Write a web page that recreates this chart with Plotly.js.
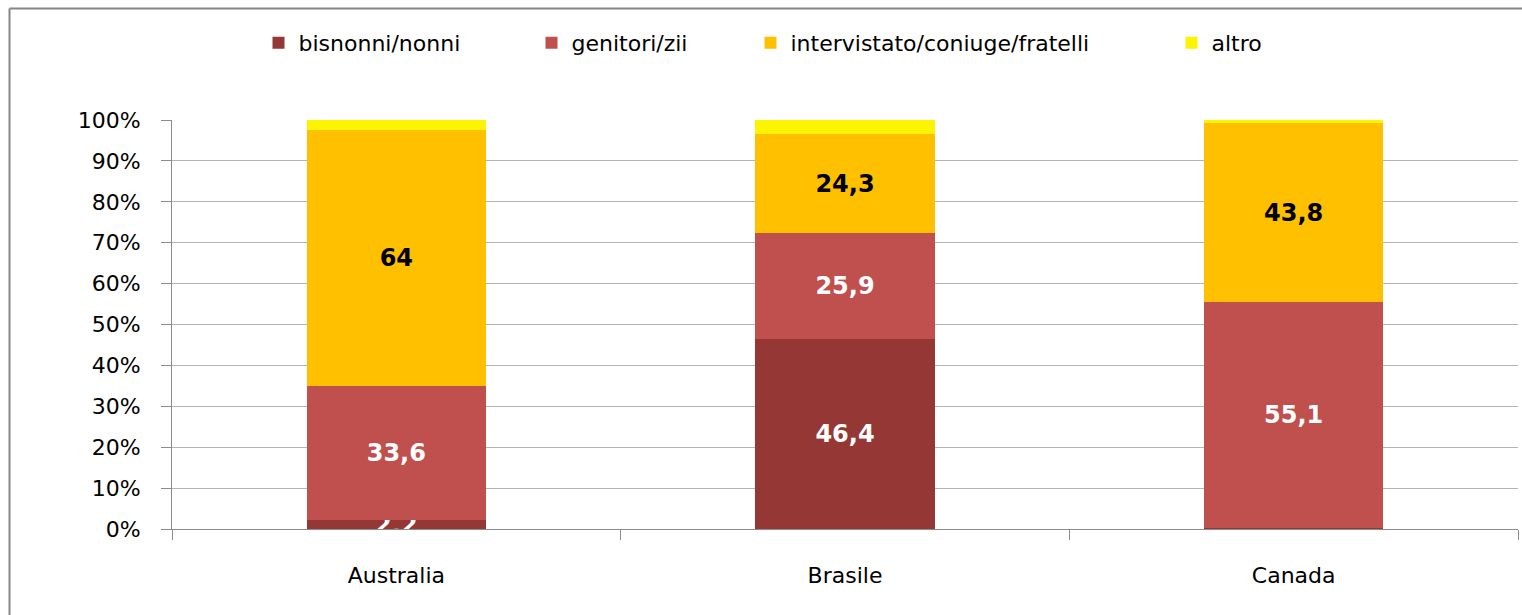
<!DOCTYPE html>
<html>
<head>
<meta charset="utf-8">
<script src="https://cdn.plot.ly/plotly-3.0.1.min.js"></script>
<style>
html,body{margin:0;padding:0;background:#fff;}
#chart{width:1522px;height:615px;}
</style>
</head>
<body>
<div id="chart"></div>
<script>
const categories = ["Australia", "Brasile", "Canada"];
const seriesNames = ["bisnonni/nonni", "genitori/zii", "intervistato/coniuge/fratelli", "altro"];
const bisnonni = [2.2, 46.4, 0.3];
const genitori = [33.6, 25.9, 55.1];
const intervistato = [64, 24.3, 43.8];
const altro = [2.4, 3.4, 0.8];
const showBisnonni = [true, true, false];
const showGenitori = [true, true, true];
const showIntervistato = [true, true, true];
const showAltro = [false, false, false];
const yTickVals = [0, 10, 20, 30, 40, 50, 60, 70, 80, 90, 100];
const yTickText = ["0%", "10%", "20%", "30%", "40%", "50%", "60%", "70%", "80%", "90%", "100%"];

const colors = ["#953735", "#C0504D", "#FFC000", "#FCF400"];
const textColors = ["#ffffff", "#ffffff", "#000000", "#000000"];
const FONT = "'DejaVu Sans', sans-serif";
const FS = 22;

// plot area geometry (pixels)
const L = 172, R = 4, T = 120, B = 86, W = 1522, H = 615;
const PW = W - L - R, PH = H - T - B;
const legendMarkerCenters = [278.5, 551.5, 770.5, 1191.5];
const legendCenterY = 43;

function fmt(v) { return String(v).replace('.', ','); }

const allVals = [bisnonni, genitori, intervistato, altro];
const allShow = [showBisnonni, showGenitori, showIntervistato, showAltro];
const legendIds = ['legend', 'legend2', 'legend3', 'legend4'];

const traces = allVals.map((vals, i) => ({
  type: 'bar',
  name: seriesNames[i],
  legend: legendIds[i],
  x: categories,
  y: vals,
  marker: {color: colors[i], line: {width: 0}},
  text: vals.map((v, j) => allShow[i][j] ? fmt(v) : ''),
  textposition: 'inside',
  insidetextanchor: 'middle',
  textangle: 0,
  cliponaxis: i === 0 ? false : true,
  insidetextfont: {family: FONT, size: 24, color: textColors[i], weight: 'bold'},
  hoverinfo: 'skip'
}));

const borderX = (9.5 - L) / PW;
const borderY = (T + PH - 8.5) / PH;

const layout = {
  width: W, height: H,
  margin: {l: L, r: R, t: T, b: B},
  paper_bgcolor: '#ffffff',
  plot_bgcolor: '#ffffff',
  barmode: 'stack',
  barnorm: 'percent',
  bargap: 0.6,
  uniformtext: {mode: 'show', minsize: 24},
  font: {family: FONT, size: FS, color: '#000'},
  showlegend: true,
  xaxis: {
    type: 'category',
    showgrid: false,
    showline: true, linecolor: '#8c8c8c', linewidth: 1,
    ticks: 'outside', tickson: 'boundaries', ticklen: 10, tickcolor: '#8c8c8c',
    ticklabelstandoff: 27,
    tickfont: {family: FONT, size: FS, color: '#000'},
    zeroline: false, fixedrange: true
  },
  yaxis: {
    range: [0, 100],
    tickvals: yTickVals, ticktext: yTickText,
    showgrid: true, gridcolor: '#b4b4b4', gridwidth: 1,
    showline: true, linecolor: '#8c8c8c', linewidth: 1,
    ticks: 'outside', ticklen: 10, tickcolor: '#8c8c8c',
    ticklabelstandoff: 16,
    tickfont: {family: FONT, size: FS, color: '#000'},
    zeroline: false, fixedrange: true
  },
  shapes: [
    {type: 'line', xref: 'paper', yref: 'paper', x0: borderX, x1: 1.5, y0: borderY, y1: borderY,
     line: {color: '#868686', width: 2}, layer: 'below'},
    {type: 'line', xref: 'paper', yref: 'paper', x0: borderX, x1: borderX, y0: -0.8, y1: borderY,
     line: {color: '#868686', width: 2}, layer: 'below'}
  ]
};

legendIds.forEach((id, i) => {
  layout[id] = {
    orientation: 'h',
    x: (legendMarkerCenters[i] - 20 - L) / PW, xanchor: 'left',
    y: (T + PH - legendCenterY) / PH, yanchor: 'middle',
    bgcolor: 'rgba(0,0,0,0)', borderwidth: 0,
    font: {family: FONT, size: FS, color: '#000'},
    itemwidth: 30
  };
});

Plotly.newPlot('chart', traces, layout, {displayModeBar: false, staticPlot: true});
</script>
</body>
</html>
